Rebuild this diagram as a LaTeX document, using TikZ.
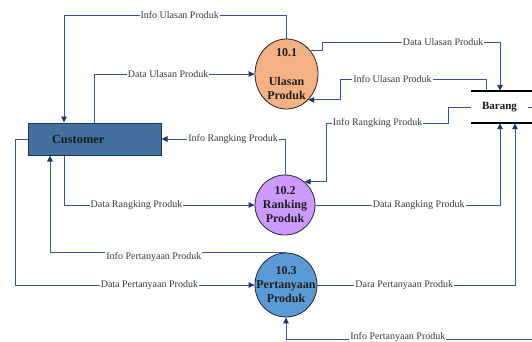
\documentclass[tikz,border=0pt]{standalone}
\usepackage{fontspec}
\setmainfont{Liberation Serif}
\usetikzlibrary{arrows.meta,positioning,shapes.geometric}
\definecolor{custblue}{HTML}{41719C}
\definecolor{custedge}{HTML}{1F3347}
\definecolor{ulasorange}{HTML}{F4B183}
\definecolor{rankviolet}{HTML}{CC99FF}
\definecolor{tanyablue}{HTML}{5B9BD5}
\definecolor{flownavy}{HTML}{34539A}
\definecolor{tipnavy}{HTML}{1F3670}
\definecolor{labelgray}{HTML}{3A3A3A}
\tikzset{
  entity/.style={rectangle, draw=custedge, fill=custblue, line width=1pt,
    minimum width=133pt, minimum height=32pt, text width=85pt, inner xsep=24pt,
    align=left, font=\fontsize{12.4}{14}\selectfont\bfseries, text=black!90},
  proc/.style={ellipse, draw=black!85, line width=0.8pt, inner sep=0pt},
  proctext/.style={align=center, inner sep=0pt,
    font=\fontsize{12}{14}\selectfont\bfseries, text=black!88},
  store/.style={minimum width=57pt, minimum height=32pt, inner sep=0pt,
    font=\fontsize{11}{13}\selectfont\bfseries, text=black!90},
  storeline/.style={line width=1.8pt, black},
  flow/.style={-{Triangle[length=6pt,width=5.5pt,color=tipnavy]}, line width=0.9pt, color=flownavy},
  lbl/.style={fill=white, inner sep=1pt, font=\fontsize{10}{12}\selectfont, text=labelgray},
}
\begin{document}
\begin{tikzpicture}[x=1pt,y=-1pt]
  \useasboundingbox (0,0) rectangle (532,341);
  % entity, processes and store
  \node[entity] (cust) at (94.5,139) {Customer};
  \node[proc, fill=ulasorange, minimum width=63pt, minimum height=70pt,
    label={[proctext]center:{10.1\\[15pt]Ulasan\\Produk}}] (p1) at (286.5,74) {};
  \node[proc, fill=rankviolet, minimum width=60pt, minimum height=60pt,
    label={[proctext]center:{10.2\\Ranking\\Produk}}] (p2) at (285,205) {};
  \node[proc, fill=tanyablue, minimum width=62pt, minimum height=64pt,
    label={[proctext]center:{10.3\\Pertanyaan\\Produk}}] (p3) at (286,285) {};
  \node[store] (barang) at (499.5,107) {Barang};
  \draw[storeline] (barang.north west) -- ++(61,0);
  \draw[storeline] (barang.south west) -- ++(61,0);
  % bends
  \coordinate (b1) at (64,15);
  \coordinate (b3) at (500,42);
  \coordinate (b4) at (340,79);
  \coordinate (b6) at (326,123);
  \coordinate (b12) at (286,339);
  % ulasan
  \draw[flow] (p1.north) |- (b1) node[lbl, pos=0.74] {Info Ulasan Produk}
    -- (b1 |- cust.north);
  \draw[flow] (cust.north) |- (p1.west) node[lbl, pos=0.73] {Data Ulasan Produk};
  \draw[flow] (p1.44) -- ++(12,0) |- (b3) node[lbl, pos=0.84] {Data Ulasan Produk}
    -- (b3 |- barang.north);
  \draw[flow] ([xshift=-13.5pt]barang.north) |- (b4) node[lbl, pos=0.82] {Info Ulasan Produk}
    |- (p1.-50);
  % rangking
  \draw[flow] (p2.north) |- (cust.east) node[lbl, pos=0.71] {Info Rangking Produk};
  \draw[flow] (barang.west) -- ++(-22,0) |- (b6) node[lbl, pos=0.79] {Info Rangking Produk}
    |- (p2.50);
  \draw[flow] ([xshift=-30.5pt]cust.south) |- (p2.west) node[lbl, pos=0.69] {Data Rangking Produk};
  \draw[flow] (p2.east) -| ([xshift=0.5pt]barang.south) node[lbl, pos=0.28] {Data Rangking Produk};
  % pertanyaan
  \draw[flow] (p3.north) -| ([xshift=-44.5pt]cust.south)
    node[lbl, pos=0.28, yshift=-4pt] {Info Pertanyaan Produk};
  \draw[flow] (cust.west) -- ++(-12,0) |- (p3.west) node[lbl, pos=0.78] {Data Pertanyaan Produk};
  \draw[flow] (p3.east) -| ([xshift=15.5pt]barang.south) node[lbl, pos=0.22] {Dara Pertanyaan Produk};
  \draw[flow] (barang.east) -- ++(12,0) |- (b12) node[lbl, pos=0.78, yshift=2pt] {Info Pertanyaan Produk}
    -- (p3.south);
\end{tikzpicture}
\end{document}
